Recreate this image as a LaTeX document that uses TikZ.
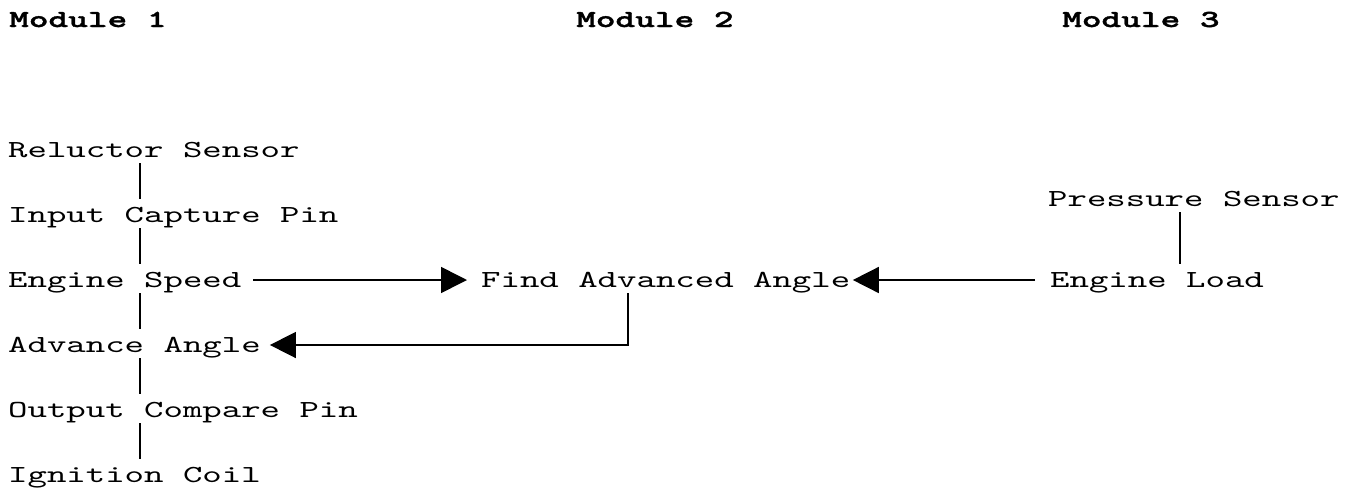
\documentclass[tikz,border=0pt]{standalone}
\usepackage{fontspec}
\newfontfamily\cour{lmmono10-regular.otf}[FakeStretch=1.51]
\newfontfamily\courhd{lmmonolt10-bold.otf}[FakeStretch=1.53,FakeBold=1.5]
\usetikzlibrary{arrows.meta}
\begin{document}
\begin{tikzpicture}[x=1pt,y=-1pt,
 lbl/.style={inner sep=0pt, anchor=base west, font=\cour\fontsize{24.5}{30}\selectfont, text height=23pt, text depth=6pt},
 hdr/.style={inner sep=0pt, anchor=base west, font=\courhd\fontsize{24.5}{30}\selectfont},
 conn/.style={line width=1.6pt},
 arr/.style={line width=1.6pt, -{Triangle[length=26pt,width=26pt]}}]
\useasboundingbox (0,0) rectangle (1354,488);
\node[hdr] (h1) at (9,27) {Module 1};
\node[hdr] (h2) at (576,27) {Module 2};
\node[hdr] (h3) at (1062,27) {Module 3};
\node[lbl] (rs) at (8,157) {Reluctor Sensor};
\node[lbl] (icp) at (8,222) {Input Capture Pin};
\node[lbl] (es) at (8,287) {Engine Speed};
\node[lbl] (aa) at (8,352) {Advance Angle};
\node[lbl] (ocp) at (8,417) {Output Compare Pin};
\node[lbl] (ic) at (8,482) {Ignition Coil};
\node[lbl] (ps) at (1048,206) {Pressure Sensor};
\node[lbl] (el) at (1050,287) {Engine Load};
\node[lbl] (fa) at (481,287) {Find Advanced Angle};
\draw[conn] ([xshift=132pt]rs.south west) -- ([xshift=132pt]icp.north west);
\draw[conn] ([xshift=132pt]icp.south west) -- ([xshift=132pt]es.north west);
\draw[conn] ([xshift=132pt]es.south west) -- ([xshift=132pt]aa.north west);
\draw[conn] ([xshift=132pt]aa.south west) -- ([xshift=132pt]ocp.north west);
\draw[conn] ([xshift=132pt]ocp.south west) -- ([xshift=132pt]ic.north west);
\draw[conn] ([xshift=132pt]ps.south west) -- ([xshift=130pt]el.north west);
\draw[arr] ([xshift=11.6pt,yshift=7pt]es.base east) -- ([xshift=-14pt,yshift=7pt]fa.base west);
\draw[arr] ([xshift=-15pt,yshift=7pt]el.base west) -- ([xshift=2.4pt,yshift=7pt]fa.base east);
\draw[arr] ([xshift=147pt]fa.south west) |- ([xshift=9pt,yshift=7pt]aa.base east);
\end{tikzpicture}
\end{document}
